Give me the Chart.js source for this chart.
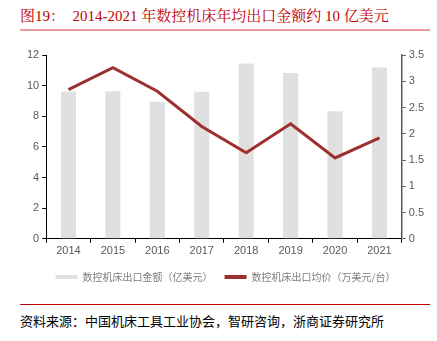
<!DOCTYPE html>
<html>
<head>
<meta charset="utf-8">
<script src="https://cdn.jsdelivr.net/npm/chart.js@4"></script>
<style>
  body { margin: 0; background: #fff; }
  #page { position: relative; width: 437px; height: 341px; overflow: hidden; }
  #title {
    position: absolute; left: 20px; top: 4px;
    font-family: "Liberation Serif", "Noto Serif CJK SC", "Noto Sans CJK SC";
    font-size: 15px; color: #c00000; white-space: nowrap;
  }
  #titleLine { position: absolute; left: 20px; top: 29px; width: 410px; height: 1.5px; background: #eb9c9c; }
  #chartBox { position: absolute; left: 0; top: 40px; width: 437px; height: 252px; }
  #srcLine { position: absolute; left: 20px; top: 304px; width: 410px; height: 1px; background: #c00000; }
  #source {
    position: absolute; left: 20px; top: 311px;
    font-family: "Noto Sans CJK SC"; font-size: 13px; color: #000; white-space: nowrap;
  }
</style>
</head>
<body>
<div id="page">
  <div id="title">图19：&nbsp;&nbsp;2014-2021 年数控机床年均出口金额约 10 亿美元</div>
  <div id="titleLine"></div>
  <div id="chartBox"><canvas id="c"></canvas></div>
  <div id="srcLine"></div>
  <div id="source">资料来源：中国机床工具工业协会，智研咨询，浙商证券研究所</div>
</div>
<script>
// data
const years = ['2014', '2015', '2016', '2017', '2018', '2019', '2020', '2021'];
const exportValue = [9.6, 9.64, 8.95, 9.6, 11.45, 10.82, 8.33, 11.19];   // 亿美元
const avgPrice = [2.84, 3.26, 2.81, 2.14, 1.64, 2.19, 1.54, 1.92];       // 万美元/台

Chart.defaults.font.family = '"Liberation Sans", Arial';
Chart.defaults.color = '#595959';

const ctx = document.getElementById('c').getContext('2d');
new Chart(ctx, {
    data: {
        labels: years,
        datasets: [
            {
                type: 'bar',
                label: '数控机床出口金额（亿美元）',
                data: exportValue,
                backgroundColor: '#e0e0e0',
                borderWidth: 0,
                barPercentage: 0.34,
                categoryPercentage: 1,
                yAxisID: 'y',
                order: 2
            },
            {
                type: 'line',
                label: '数控机床出口均价（万美元/台）',
                data: avgPrice,
                borderColor: '#9e2f2f',
                backgroundColor: '#9e2f2f',
                borderWidth: 3,
                pointRadius: 0,
                tension: 0,
                yAxisID: 'y1',
                order: 1
            }
        ]
    },
    options: {
        responsive: true,
        maintainAspectRatio: false,
        animation: false,
        layout: { padding: { left: 24, right: 10, top: 15 } },
        scales: {
            x: {
                grid: { display: true, drawOnChartArea: false, tickLength: 4, color: '#000', offset: true },
                border: { color: '#000', width: 1 },
                ticks: { font: { size: 11 }, padding: 2 }
            },
            y: {
                position: 'left',
                min: 0, max: 12,
                grid: { display: true, drawOnChartArea: false, tickLength: 4, color: '#000' },
                border: { color: '#000', width: 1 },
                ticks: { stepSize: 2, font: { size: 11 }, padding: 3 }
            },
            y1: {
                position: 'right',
                min: 0, max: 3.5,
                grid: { display: true, drawOnChartArea: false, tickLength: 4, color: '#595959' },
                border: { color: '#595959', width: 1.5 },
                ticks: {
                    stepSize: 0.5, font: { size: 11 }, padding: 3,
                    callback: function(value) { return String(+value.toFixed(1)); }
                }
            }
        },
        plugins: {
            legend: {
                position: 'bottom',
                labels: {
                    boxWidth: 22,
                    boxHeight: 4,
                    padding: 12,
                    color: '#7f7f7f',
                    font: { size: 10, family: '"Noto Sans CJK SC"' },
                    sort: function(a, b) { return a.datasetIndex - b.datasetIndex; },
                    generateLabels: function(chart) {
                        const items = Chart.defaults.plugins.legend.labels.generateLabels(chart);
                        items.forEach(function(it) { it.lineWidth = 0; });
                        return items;
                    }
                }
            },
            tooltip: { enabled: false }
        }
    }
});
</script>
</body>
</html>
